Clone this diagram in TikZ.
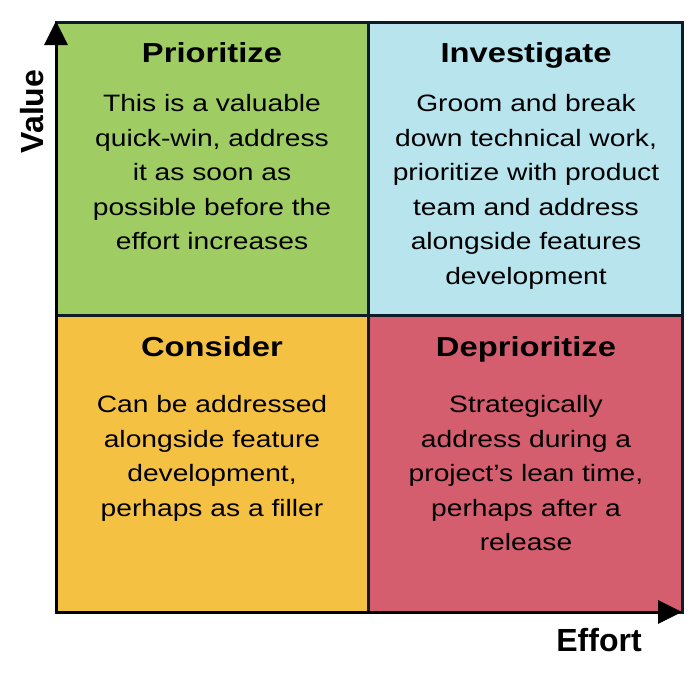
\documentclass[tikz,border=0pt]{standalone}
\usepackage{fontspec}
\setmainfont{Liberation Sans}
\newfontfamily\quadfont[FakeStretch=1.19]{Liberation Sans}
\usetikzlibrary{arrows.meta}

\definecolor{quadgreen}{RGB}{159,205,99}
\definecolor{quadblue}{RGB}{184,228,238}
\definecolor{quadyellow}{RGB}{245,193,66}
\definecolor{quadred}{RGB}{212,93,110}
\definecolor{edgenavy}{RGB}{14,28,40}

% body paragraph of a quadrant, baseline at its first line
\newcommand\quadbody[1]{\parbox[t]{310pt}{\quadfont\fontsize{23.7pt}{34.5pt}\selectfont\centering #1\par}}

\begin{document}
\begin{tikzpicture}[x=1pt,y=-1pt,
  titletext/.style={anchor=base, inner sep=0pt, font=\quadfont\bfseries\fontsize{27.5pt}{33pt}\selectfont},
  bodytext/.style={anchor=base, inner sep=0pt},
  axislabel/.style={anchor=base, inner sep=0pt, font=\bfseries\fontsize{32pt}{38pt}\selectfont},
  gridline/.style={line width=3pt, draw=edgenavy},
  axisarrow/.style={line width=3pt, draw=black, -{Triangle[length=24pt,width=23pt]}}]
\useasboundingbox (0,0) rectangle (700,672);

% quadrant fills
\fill[quadgreen]  (56,22)  rectangle (368,315);
\fill[quadblue]   (368,22) rectangle (682,315);
\fill[quadyellow] (56,315) rectangle (368,612);
\fill[quadred]    (368,315) rectangle (682,612);

% grid
\draw[gridline] (56,22) rectangle (682,612);
\draw[gridline] (368,22) -- (368,612);
\draw[gridline] (56,315) -- (682,315);

% axes
\coordinate (origin) at (56,612);
\coordinate (ytip) at (56,21);
\coordinate (xtip) at (682,612);
\draw[axisarrow] (origin) -- (ytip);
\draw[axisarrow] (origin) -- (xtip);

\node[axislabel, rotate=90] (vlabel) at (43.3,111.5) {Value};
\node[axislabel] (elabel) at (599,651) {Effort};

% quadrant texts
\node[titletext] (tprio) at (212,62.7) {Prioritize};
\node[bodytext] (bprio) at (212,111.7) {\quadbody{This is a valuable\\quick-win, address\\it as soon as\\possible before the\\effort increases}};

\node[titletext] (tinv) at (526,62.7) {Investigate};
\node[bodytext] (binv) at (526,111.7) {\quadbody{Groom and break\\down technical work,\\prioritize with product\\team and address\\alongside features\\development}};

\node[titletext] (tcons) at (212,356) {Consider};
\node[bodytext] (bcons) at (212,412.7) {\quadbody{Can be addressed\\alongside feature\\development,\\perhaps as a filler}};

\node[titletext] (tdep) at (526,356) {Deprioritize};
\node[bodytext] (bdep) at (526,412.7) {\quadbody{Strategically\\address during a\\project’s lean time,\\perhaps after a\\release}};
\end{tikzpicture}
\end{document}
